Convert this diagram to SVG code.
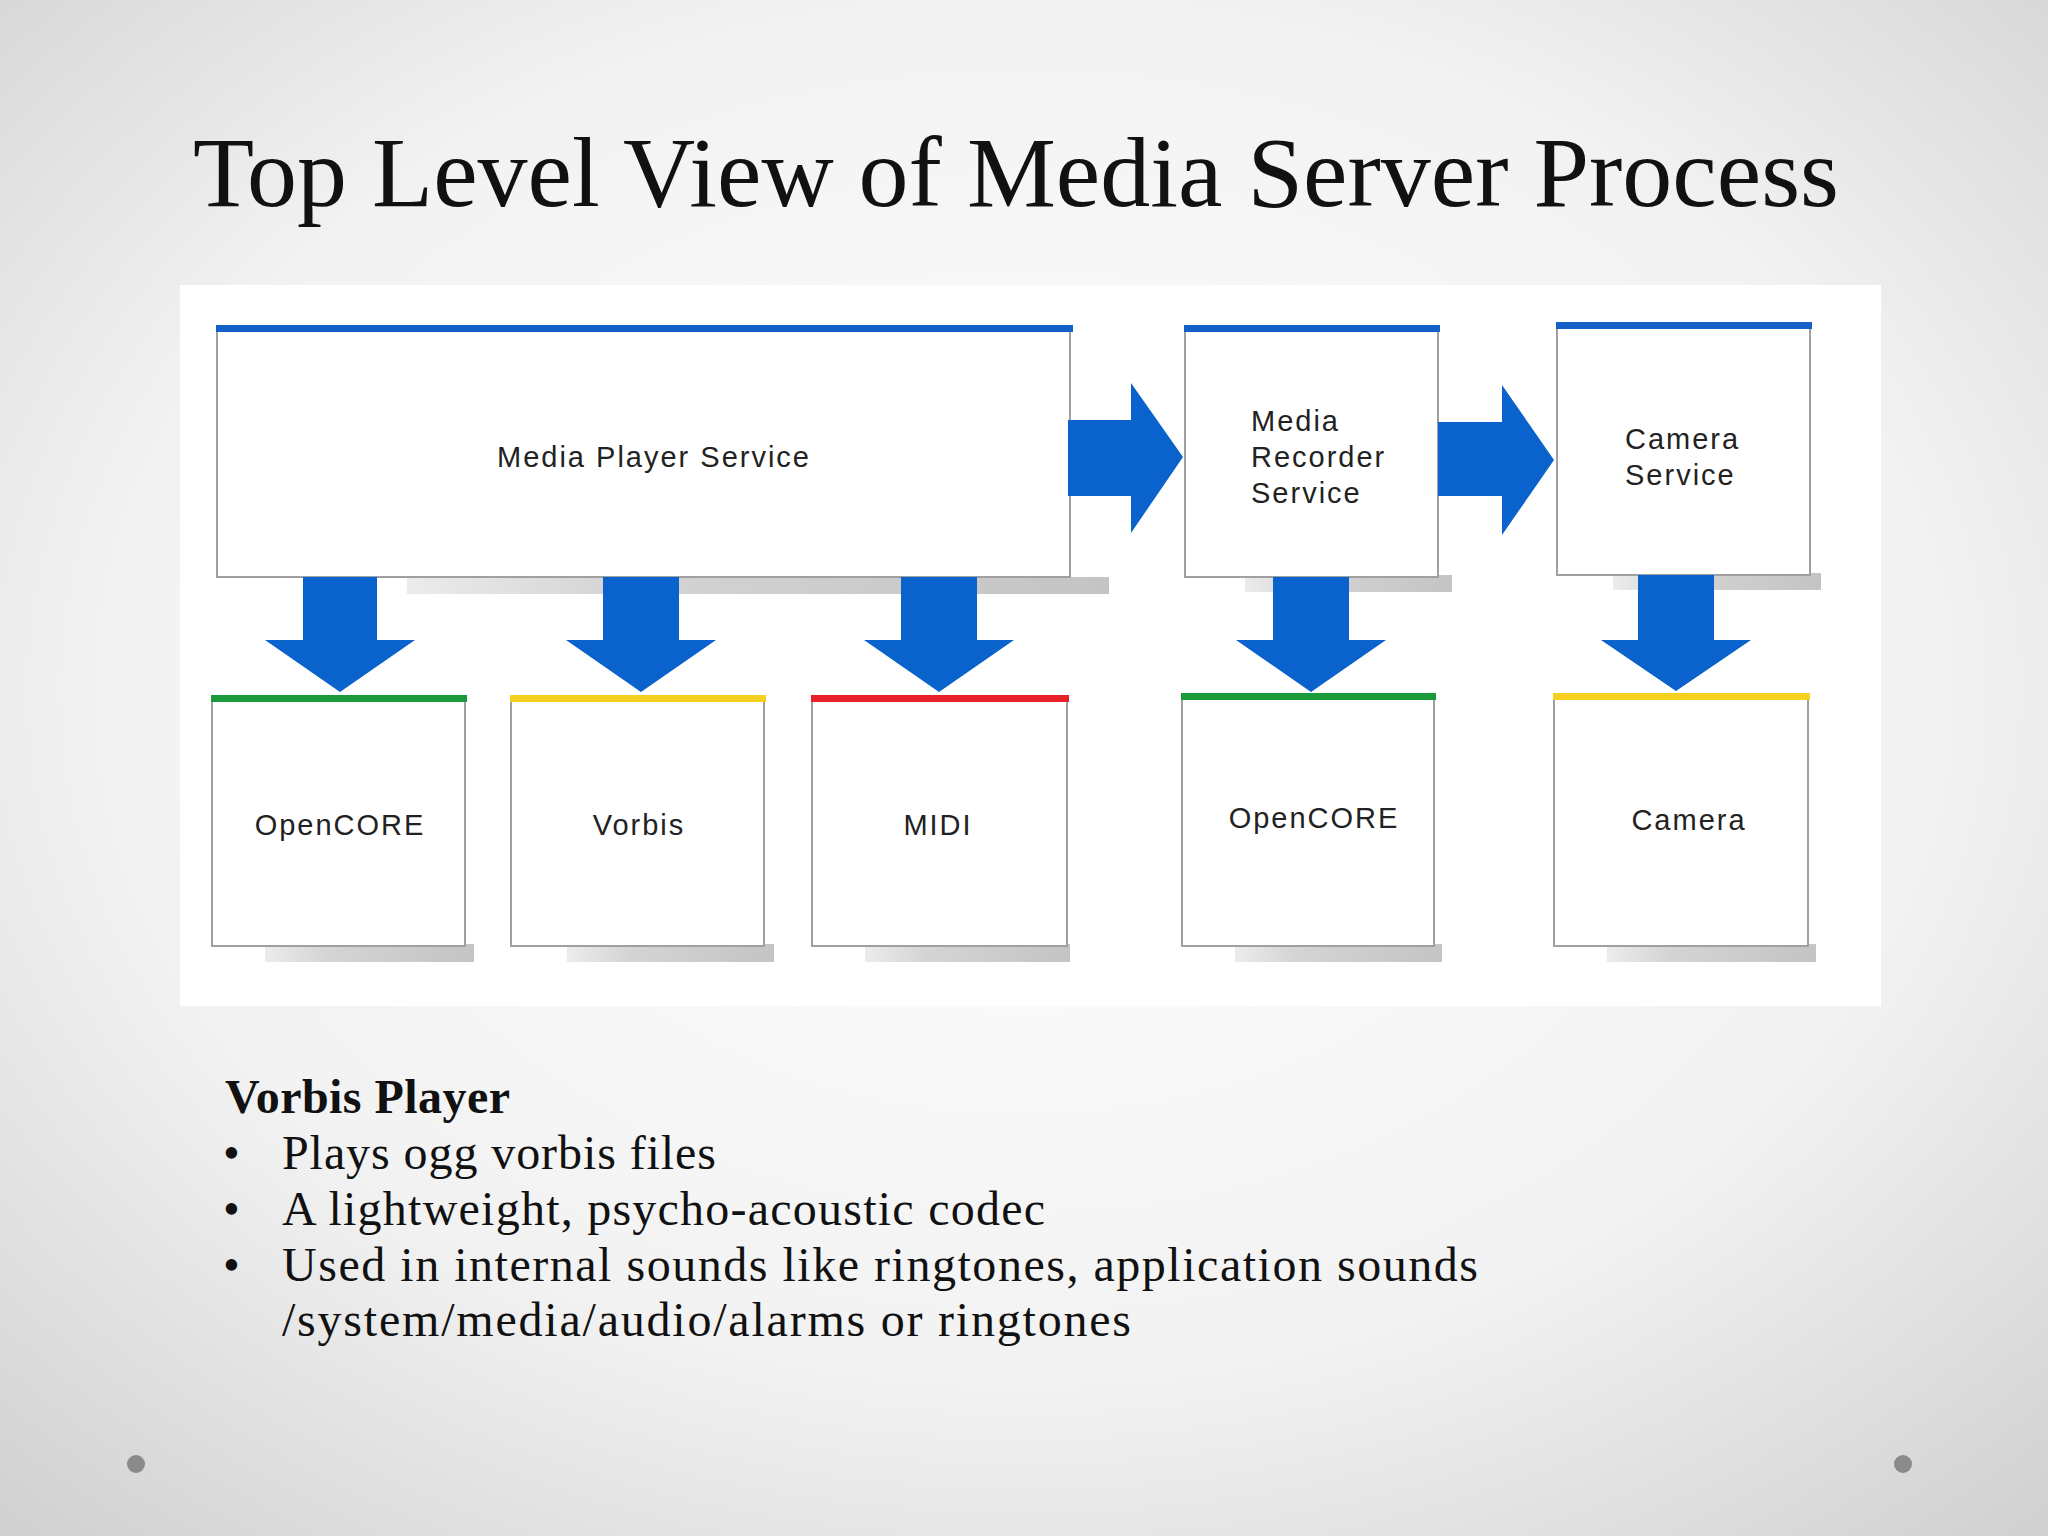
<svg xmlns="http://www.w3.org/2000/svg" width="2048" height="1536" viewBox="0 0 2048 1536">
<defs>
<radialGradient id="bg" cx="50%" cy="45%" r="75%">
<stop offset="0" stop-color="#ffffff"/><stop offset="0.6" stop-color="#f2f2f2"/><stop offset="1" stop-color="#cfcfcf"/>
</radialGradient>
<linearGradient id="sh" x1="0" x2="1"><stop offset="0" stop-color="#ececec"/><stop offset="0.3" stop-color="#d4d4d4"/><stop offset="1" stop-color="#c4c4c4"/></linearGradient>
</defs>
<style>
.box{fill:#fff;stroke:#a0a0a0;stroke-width:2}
.sh{fill:url(#sh)}
.lbl{font-family:"Liberation Sans",Arial,sans-serif;font-size:29px;fill:#222;letter-spacing:2px}
.arr{fill:#0a63cc}
.body{font-family:"Liberation Serif","Times New Roman",serif;font-size:48px;fill:#111}
</style>
<rect width="2048" height="1536" fill="url(#bg)"/>
<text x="193" y="206" font-family="Liberation Serif, serif" font-size="100" fill="#111" textLength="1646" lengthAdjust="spacingAndGlyphs">Top Level View of Media Server Process</text>
<rect x="180" y="285" width="1701" height="721" fill="#fff"/>

<g id="mps">
<rect class="sh" x="407" y="577" width="702" height="17"/>
<rect class="box" x="217" y="327" width="853" height="250"/>
<rect x="216" y="325" width="857" height="7" fill="#1560c8"/>
<text class="lbl" x="654" y="467" text-anchor="middle">Media Player Service</text>
</g>
<g id="mrs">
<rect class="sh" x="1245" y="575" width="207" height="17"/>
<rect class="box" x="1185" y="327" width="253" height="250"/>
<rect x="1184" y="325" width="256" height="7" fill="#1560c8"/>
<text class="lbl" x="1251" y="431">Media</text>
<text class="lbl" x="1251" y="467">Recorder</text>
<text class="lbl" x="1251" y="503">Service</text>
</g>
<g id="cs">
<rect class="sh" x="1613" y="573" width="208" height="17"/>
<rect class="box" x="1557" y="324" width="253" height="251"/>
<rect x="1556" y="322" width="256" height="7" fill="#1560c8"/>
<text class="lbl" x="1625" y="449">Camera</text>
<text class="lbl" x="1625" y="485">Service</text>
</g>

<g id="opencore1">
<rect class="sh" x="265" y="944" width="209" height="18"/>
<rect class="box" x="212" y="697" width="253" height="249"/>
<rect x="211" y="695" width="256" height="7" fill="#1a9a3a"/>
<text class="lbl" x="340" y="835" text-anchor="middle">OpenCORE</text>
</g>
<g id="vorbis">
<rect class="sh" x="567" y="944" width="207" height="18"/>
<rect class="box" x="511" y="697" width="253" height="249"/>
<rect x="510" y="695" width="256" height="7" fill="#f5d020"/>
<text class="lbl" x="639" y="835" text-anchor="middle">Vorbis</text>
</g>
<g id="midi">
<rect class="sh" x="865" y="944" width="205" height="18"/>
<rect class="box" x="812" y="697" width="255" height="249"/>
<rect x="811" y="695" width="258" height="7" fill="#e8202a"/>
<text class="lbl" x="938" y="835" text-anchor="middle">MIDI</text>
</g>
<g id="opencore2">
<rect class="sh" x="1235" y="944" width="207" height="18"/>
<rect class="box" x="1182" y="695" width="252" height="251"/>
<rect x="1181" y="693" width="255" height="7" fill="#1a9a3a"/>
<text class="lbl" x="1314" y="828" text-anchor="middle">OpenCORE</text>
</g>
<g id="camera">
<rect class="sh" x="1607" y="944" width="209" height="18"/>
<rect class="box" x="1554" y="695" width="254" height="251"/>
<rect x="1553" y="693" width="257" height="7" fill="#f5d020"/>
<text class="lbl" x="1689" y="830" text-anchor="middle">Camera</text>
</g>

<g id="connectors">
<polygon class="arr" points="303,577 377,577 377,640 415,640 340,692 265,640 303,640"/>
<polygon class="arr" points="603,577 679,577 679,640 716,640 641,692 566,640 603,640"/>
<polygon class="arr" points="901,577 977,577 977,640 1014,640 939,692 864,640 901,640"/>
<polygon class="arr" points="1273,577 1349,577 1349,640 1386,640 1311,692 1236,640 1273,640"/>
<polygon class="arr" points="1638,575 1714,575 1714,640 1751,640 1676,691 1601,640 1638,640"/>
<polygon class="arr" points="1068,420 1131,420 1131,383 1183,457 1131,533 1131,496 1068,496"/>
<polygon class="arr" points="1438,422 1502,422 1502,385 1554,460 1502,535 1502,496 1438,496"/>
</g>

<text class="body" x="225" y="1113" font-weight="bold" textLength="285">Vorbis Player</text>
<g class="body">
<text x="223" y="1169">•</text><text x="282" y="1169" textLength="434">Plays ogg vorbis files</text>
<text x="223" y="1225">•</text><text x="282" y="1225" textLength="763">A lightweight, psycho-acoustic codec</text>
<text x="223" y="1281">•</text><text x="282" y="1281" textLength="1196">Used in internal sounds like ringtones, application sounds</text>
<text x="282" y="1336" textLength="849">/system/media/audio/alarms or ringtones</text>
</g>
<circle cx="136" cy="1464" r="9" fill="#8a8a8a"/>
<circle cx="1903" cy="1464" r="9" fill="#8a8a8a"/>
</svg>
